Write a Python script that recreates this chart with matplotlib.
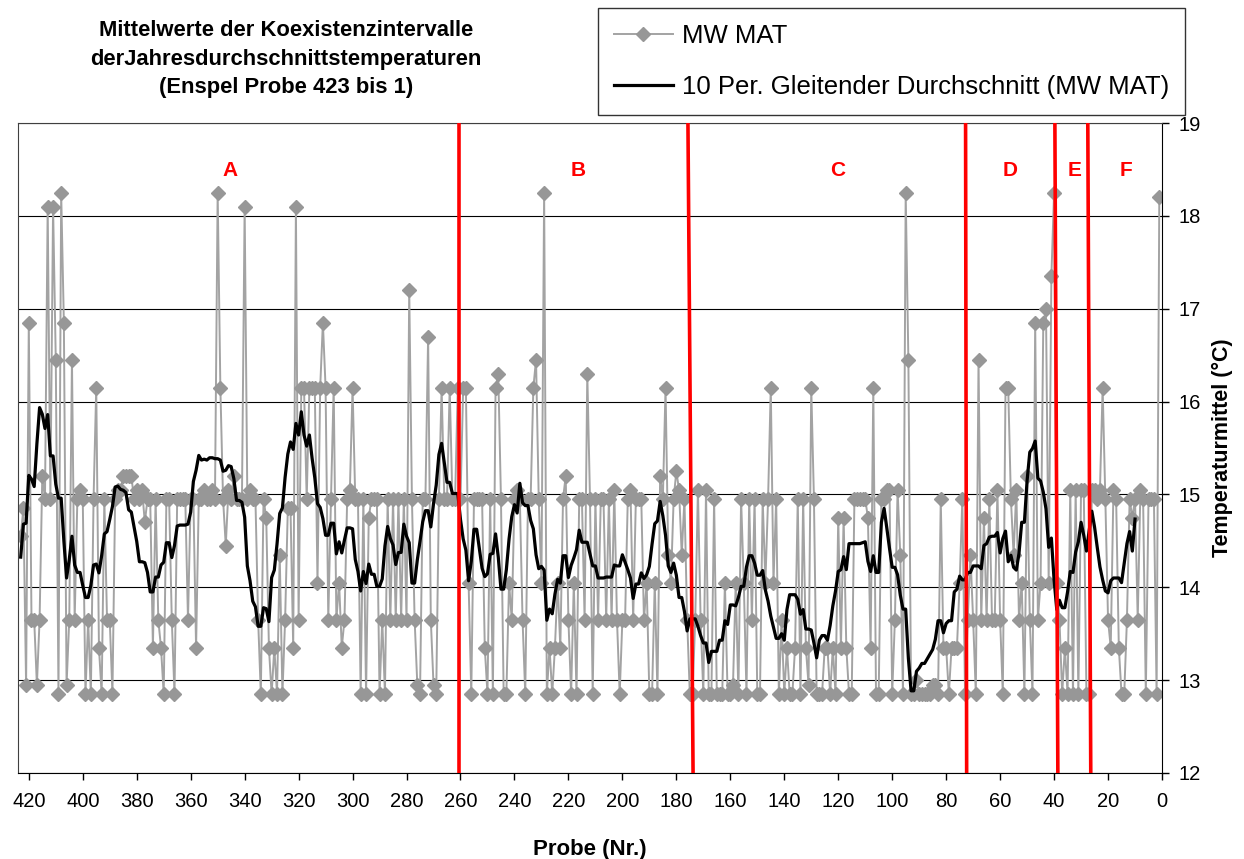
import numpy as np
import pandas as pd
import matplotlib
matplotlib.use('Agg')
import matplotlib.pyplot as plt
from matplotlib.lines import Line2D

plt.rcParams['font.family'] = ['Liberation Sans', 'DejaVu Sans']

# Probe Nr. 423 ... 1 (Reihenfolge wie im Profil)
samples = np.arange(423, 0, -1)

mw_mat = [
    14.55, 14.85, 12.95, 16.85, 13.65, 13.65, 12.95, 13.65, 15.2, 14.95,    # 423-414
    18.1, 14.95, 18.1, 16.45, 12.85, 18.25, 16.85, 12.95, 13.65, 16.45,     # 413-404
    13.65, 14.95, 15.05, 14.95, 12.85, 13.65, 12.85, 14.95, 16.15, 13.35,   # 403-394
    12.85, 14.95, 13.65, 13.65, 12.85, 14.95, 15.05, 15.05, 15.2, 15.2,     # 393-384
    15.2, 15.2, 14.95, 15.05, 14.95, 15.05, 14.7, 14.95, 14.95, 13.35,      # 383-374
    14.95, 13.65, 13.35, 12.85, 14.95, 14.95, 13.65, 12.85, 14.95, 14.95,   # 373-364
    14.95, 14.95, 13.65, 14.95, 14.95, 13.35, 14.95, 14.95, 15.05, 14.95,   # 363-354
    14.95, 15.05, 14.95, 18.25, 16.15, 14.95, 14.45, 15.05, 14.95, 15.2,    # 353-344
    14.95, 14.95, 14.95, 18.1, 14.95, 15.05, 14.95, 14.95, 13.65, 12.85,    # 343-334
    14.95, 14.75, 13.35, 12.85, 13.35, 12.85, 14.35, 12.85, 13.65, 14.85,   # 333-324
    14.85, 13.35, 18.1, 13.65, 16.15, 16.15, 14.95, 16.15, 16.15, 16.15,    # 323-314
    14.05, 16.15, 16.85, 16.15, 13.65, 14.95, 16.15, 13.65, 14.05, 13.35,   # 313-304
    13.65, 14.95, 15.05, 16.15, 14.95, 14.95, 12.85, 14.95, 12.85, 14.75,   # 303-294
    14.95, 14.95, 14.95, 12.85, 13.65, 12.85, 14.95, 13.65, 14.95, 13.65,   # 293-284
    14.95, 13.65, 14.95, 13.65, 17.2, 14.95, 13.65, 12.95, 12.85, 14.95,    # 283-274
    14.95, 16.7, 13.65, 12.95, 12.85, 14.95, 16.15, 14.95, 14.95, 16.15,    # 273-264
    14.95, 14.95, 16.15, 14.95, 16.15, 16.15, 14.05, 12.85, 14.95, 14.95,   # 263-254
    14.95, 14.95, 13.35, 12.85, 14.95, 12.85, 16.15, 16.3, 14.95, 12.85,    # 253-244
    12.85, 14.05, 13.65, 14.95, 15.05, 14.95, 13.65, 12.85, 14.95, 14.95,   # 243-234
    16.15, 16.45, 14.95, 14.05, 18.25, 12.85, 13.35, 12.85, 13.35, 14.05,   # 233-224
    13.35, 14.95, 15.2, 13.65, 12.85, 14.05, 12.85, 14.95, 14.95, 13.65,    # 223-214
    16.3, 14.95, 12.85, 14.95, 13.65, 14.95, 14.95, 13.65, 14.95, 13.65,    # 213-204
    15.05, 13.65, 12.85, 13.65, 13.65, 14.95, 15.05, 13.65, 14.95, 14.95,   # 203-194
    14.95, 13.65, 14.05, 12.85, 12.85, 14.05, 12.85, 15.2, 14.95, 16.15,    # 193-184
    14.35, 14.05, 14.95, 15.25, 15.05, 14.35, 14.95, 13.65, 12.85, 12.85,   # 183-174
    13.65, 15.05, 13.65, 12.85, 15.05, 12.85, 12.85, 14.95, 12.85, 12.85,   # 173-164
    12.85, 14.05, 12.85, 12.85, 12.95, 14.05, 12.85, 14.95, 14.05, 12.85,   # 163-154
    14.95, 13.65, 14.95, 12.85, 12.85, 14.95, 14.05, 14.95, 16.15, 14.05,   # 153-144
    14.95, 12.85, 13.65, 12.85, 13.35, 12.85, 12.85, 13.35, 14.95, 12.85,   # 143-134
    14.95, 13.35, 12.95, 16.15, 14.95, 12.85, 12.85, 12.85, 13.35, 13.35,   # 133-124
    12.85, 13.35, 12.85, 14.75, 13.35, 14.75, 13.35, 12.85, 12.85, 14.95,   # 123-114
    14.95, 14.95, 14.95, 14.95, 14.75, 13.35, 16.15, 12.85, 12.85, 14.95,   # 113-104
    14.95, 15.05, 15.05, 12.85, 13.65, 15.05, 14.35, 12.85, 18.25, 16.45,   # 103-94
    12.85, 12.85, 13.0, 12.85, 12.85, 12.85, 12.85, 12.85, 12.95, 12.95,    # 93-84
    12.85, 14.95, 13.35, 13.35, 12.85, 13.35, 13.35, 13.35, 14.05, 14.95,   # 83-74
    12.85, 13.65, 14.35, 13.65, 12.85, 16.45, 13.65, 14.75, 13.65, 14.95,   # 73-64
    13.65, 13.65, 15.05, 13.65, 12.85, 16.15, 16.15, 14.95, 14.35, 15.05,   # 63-54
    13.65, 14.05, 12.85, 15.2, 13.65, 12.85, 16.85, 13.65, 14.05, 16.85,    # 53-44
    17.0, 14.05, 17.35, 18.25, 14.05, 13.65, 12.85, 13.35, 12.85, 15.05,    # 43-34
    12.85, 15.05, 12.85, 15.05, 15.05, 12.85, 12.85, 15.05, 15.05, 14.95,   # 33-24
    15.05, 16.15, 14.95, 13.65, 13.35, 15.05, 14.95, 13.35, 12.85, 12.85,   # 23-14
    13.65, 14.95, 14.75, 14.95, 13.65, 15.05, 14.95, 12.85, 14.95, 14.95,   # 13-4
    14.95, 12.85, 18.2,                                                     # 3-1
]

# Zonengrenzen (oben, unten) in Probe-Nr., leicht schraeg gezeichnet
zone_top = [260.5, 175.7, 72.8, 39.7, 27.5]
zone_bottom = [260.5, 173.8, 72.4, 38.6, 26.4]
zone_names = ['A', 'B', 'C', 'D', 'E', 'F']
zone_name_x = [345.3, 216.4, 120.1, 56.4, 32.3, 13.4]

# gleitender Durchschnitt ueber 10 Proben (aufsteigende Probe-Nr.)
mw = pd.Series(mw_mat[::-1], index=samples[::-1])
mw_avg = mw.rolling(10).mean()

fig = plt.figure(figsize=(12.44, 8.59), dpi=100)
ax = fig.add_axes([18 / 1244, 1 - 773 / 859, 1144 / 1244, 650 / 859])

ax.plot(samples, mw_mat, color='#a3a3a3', lw=1.4, marker='D', ms=6.8,
        mfc='#979797', mec='#979797', zorder=2)
ax.plot(mw_avg.index, mw_avg.values, color='black', lw=2.3, zorder=3)

for t, b in zip(zone_top, zone_bottom):
    ax.plot([t, b], [19, 12], color='red', lw=2.6, zorder=4)
for name, xpos in zip(zone_names, zone_name_x):
    ax.text(xpos, 18.49, name, color='red', fontsize=15, fontweight='bold',
            ha='center', va='center')

ax.set_xlim(424, 0)
ax.set_ylim(12, 19)
ax.set_xticks(range(0, 421, 20))
ax.set_yticks(range(12, 20))
ax.yaxis.tick_right()
ax.yaxis.set_label_position('right')
ax.grid(axis='y', color='black', lw=0.8)
ax.set_axisbelow(True)
ax.tick_params(labelsize=14.5, direction='out', length=5, width=1)
ax.tick_params(axis='x', pad=9)
ax.tick_params(axis='y', pad=7)
for sp in ax.spines.values():
    sp.set_color('#404040')
ax.spines['right'].set_color('black')
ax.spines['bottom'].set_color('black')

ax.set_xlabel('Probe (Nr.)', fontsize=16, fontweight='bold', labelpad=20)
ax.set_ylabel('Temperaturmittel (°C)', fontsize=15.5, fontweight='bold', labelpad=8)

title_lines = ['Mittelwerte der Koexistenzintervalle',
               'derJahresdurchschnittstemperaturen',
               '(Enspel Probe 423 bis 1)']
for line, ypix in zip(title_lines, [31, 59, 88]):
    fig.text(286 / 1244, 1 - ypix / 859, line, fontsize=15.8, fontweight='bold',
             ha='center', va='center')

handles = [Line2D([], [], color='#a3a3a3', lw=1.4, marker='D', ms=6.8,
                  mfc='#979797', mec='#979797'),
           Line2D([], [], color='black', lw=2.3)]
labels = ['MW MAT', '10 Per. Gleitender Durchschnitt (MW MAT)']
leg = fig.legend(handles, labels, loc='upper left',
                 bbox_to_anchor=(598 / 1244, 1 - 8 / 859), fontsize=18.5,
                 frameon=True, fancybox=False, edgecolor='black',
                 handlelength=2.3, handletextpad=0.35, labelspacing=1.05,
                 borderpad=0.62, borderaxespad=0)
leg.get_frame().set_linewidth(1.0)

fig.savefig('out.png', dpi=100, facecolor='white')
